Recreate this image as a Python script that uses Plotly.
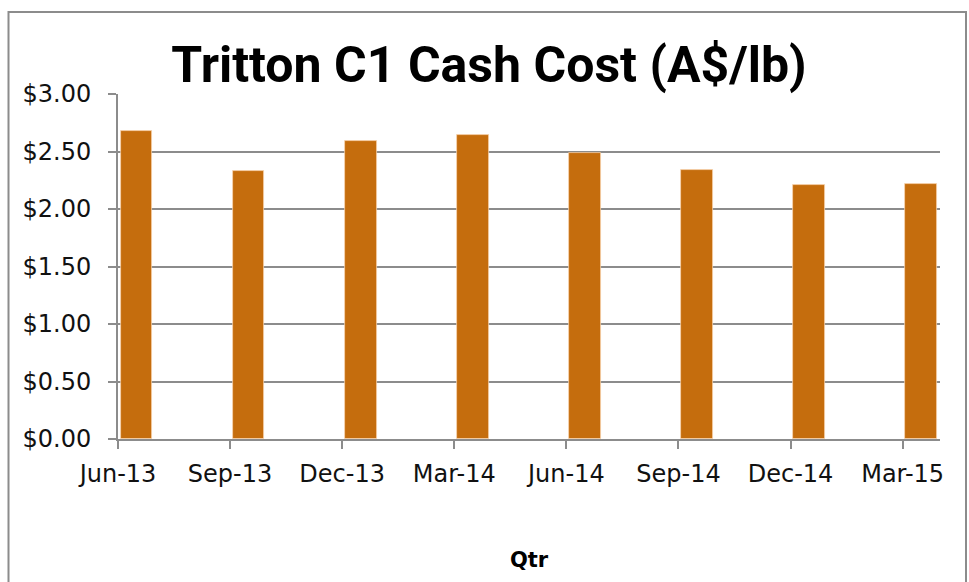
import plotly.graph_objects as go

# Data
quarters = ["Jun-13", "Sep-13", "Dec-13", "Mar-14", "Jun-14", "Sep-14", "Dec-14", "Mar-15"]
c1_cost = [2.68, 2.33, 2.59, 2.64, 2.49, 2.34, 2.21, 2.22]
y_ticks = [0.0, 0.5, 1.0, 1.5, 2.0, 2.5, 3.0]
y_tick_labels = ["$0.00", "$0.50", "$1.00", "$1.50", "$2.00", "$2.50", "$3.00"]

# date-style axis: one unit per month, quarters 3 months apart
x_pos = [3 * i for i in range(len(quarters))]

W, H = 969, 582
ML, MR, MT, MB = 118, 29, 94, 143
GRID = "#8c8c8c"
BAR = "#c56d0d"
FONT = "DejaVu Sans"

fig = go.Figure()
fig.add_trace(go.Bar(
    x=x_pos, y=c1_cost,
    offset=0.07, width=0.85,
    marker=dict(color=BAR, line=dict(color="rgba(250,215,180,0.9)", width=0.8)),
    hovertemplate="%{customdata}: $%{y:.2f}<extra></extra>",
    customdata=quarters,
))

pw = W - ML - MR
ph = H - MT - MB
def px_to_paper_x(px):
    return (px - ML) / pw
def px_to_paper_y(py):
    return (H - MB - py) / ph

fig.add_shape(type="rect", xref="paper", yref="paper",
              x0=px_to_paper_x(8.5), x1=px_to_paper_x(966),
              y0=px_to_paper_y(600), y1=px_to_paper_y(12),
              line=dict(color=GRID, width=2), layer="below")

fig.update_layout(
    width=W, height=H,
    margin=dict(l=ML, r=MR, t=MT, b=MB),
    paper_bgcolor="white", plot_bgcolor="white",
    showlegend=False,
    bargap=0,
    title=dict(text="<b>Tritton C1 Cash Cost (A$/lb)</b>",
               font=dict(family="Roboto", size=50, color="black"),
               x=489 / W, xanchor="center", y=1 - 64 / H, yanchor="middle"),
    font=dict(family=FONT, size=24, color="#111"),
)
fig.update_xaxes(
    range=[0, 22],
    tickmode="array", tickvals=x_pos, ticktext=quarters,
    ticks="outside", ticklen=8, tickwidth=2, tickcolor=GRID,
    showline=True, linecolor=GRID, linewidth=2,
    showgrid=False, zeroline=False,
    ticklabelstandoff=4,
    tickfont=dict(family=FONT, size=24, color="#111"),
    title=dict(text="<b>Qtr</b>", font=dict(family=FONT, size=21, color="black"), standoff=66),
)
fig.update_yaxes(
    range=[0, 3],
    tickmode="array", tickvals=y_ticks, ticktext=y_tick_labels,
    ticks="outside", ticklen=8, tickwidth=2, tickcolor=GRID,
    showline=True, linecolor=GRID, linewidth=2,
    showgrid=True, gridcolor=GRID, gridwidth=2,
    zeroline=False,
    ticklabelstandoff=12,
    tickfont=dict(family=FONT, size=24, color="#111"),
)

fig.write_html("out.html",
               config={"displayModeBar": False},
               post_script="document.body.style.margin='0';document.body.style.overflow='hidden';")
